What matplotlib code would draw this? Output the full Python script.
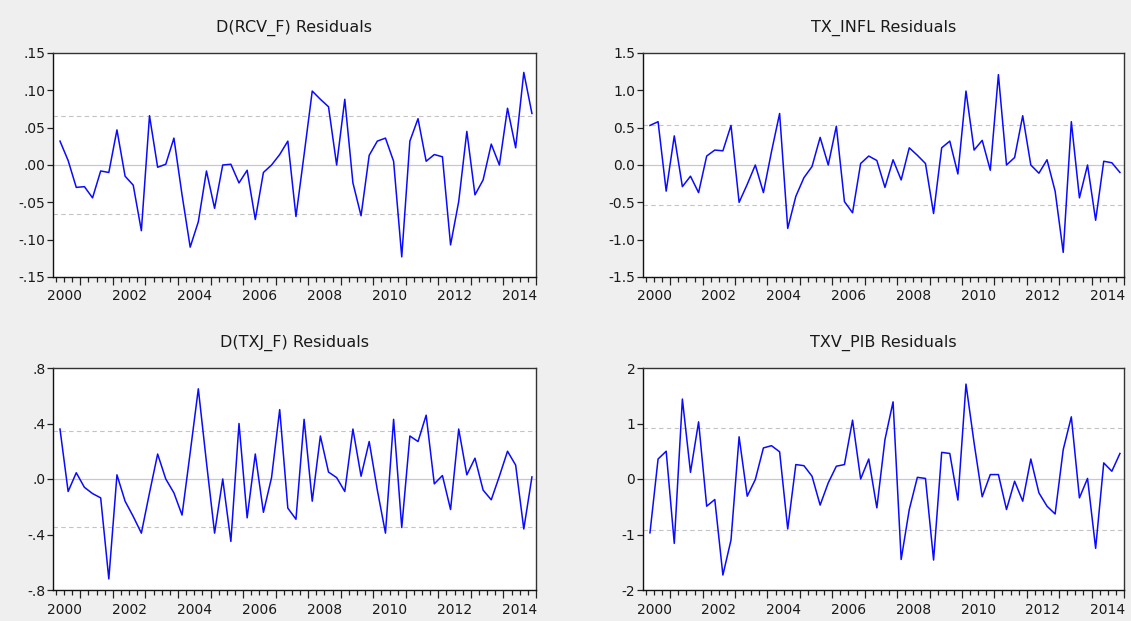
import numpy as np
import pandas as pd
import matplotlib; matplotlib.use("Agg"); import matplotlib.pyplot as plt

# quarterly residuals, 2000Q2 .. 2014Q4
quarters = pd.period_range("2000Q2", periods=59, freq="Q")
rcv = [0.032, 0.006, -0.030, -0.029, -0.044, -0.008, -0.010, 0.047, -0.015, -0.027,
       -0.088, 0.066, -0.003, 0.001, 0.036, -0.040, -0.110, -0.076, -0.008, -0.058,
       0.000, 0.001, -0.024, -0.007, -0.073, -0.010, 0.000, 0.014, 0.032, -0.069,
       0.014, 0.099, 0.088, 0.078, 0.000, 0.088, -0.024, -0.068, 0.013, 0.032,
       0.036, 0.005, -0.123, 0.032, 0.062, 0.005, 0.014, 0.011, -0.107, -0.049,
       0.045, -0.040, -0.020, 0.028, 0.000, 0.076, 0.023, 0.124, 0.069]
infl = [0.53, 0.58, -0.35, 0.39, -0.29, -0.15, -0.37, 0.12, 0.20, 0.19,
        0.53, -0.50, -0.26, 0.00, -0.37, 0.18, 0.69, -0.85, -0.42, -0.17,
        -0.02, 0.37, 0.00, 0.52, -0.49, -0.64, 0.02, 0.12, 0.06, -0.30,
        0.07, -0.20, 0.23, 0.13, 0.02, -0.65, 0.23, 0.32, -0.12, 0.99,
        0.20, 0.33, -0.07, 1.21, 0.00, 0.10, 0.66, 0.00, -0.11, 0.07,
        -0.35, -1.17, 0.58, -0.44, 0.00, -0.74, 0.05, 0.03, -0.10]
txj = [0.36, -0.09, 0.045, -0.06, -0.105, -0.136, -0.72, 0.03, -0.16, -0.27,
       -0.39, -0.10, 0.18, 0.00, -0.10, -0.26, 0.19, 0.65, 0.12, -0.39,
       0.00, -0.45, 0.40, -0.28, 0.18, -0.24, 0.01, 0.50, -0.21, -0.29,
       0.43, -0.16, 0.31, 0.05, 0.01, -0.09, 0.36, 0.02, 0.27, -0.08,
       -0.39, 0.43, -0.35, 0.31, 0.27, 0.46, -0.035, 0.025, -0.22, 0.36,
       0.03, 0.15, -0.08, -0.15, 0.02, 0.20, 0.10, -0.36, 0.015]
pib = [-0.97, 0.36, 0.50, -1.16, 1.44, 0.12, 1.03, -0.49, -0.37, -1.73,
       -1.10, 0.76, -0.31, -0.01, 0.56, 0.60, 0.49, -0.90, 0.26, 0.24,
       0.05, -0.47, -0.07, 0.23, 0.26, 1.06, 0.00, 0.36, -0.52, 0.71,
       1.39, -1.45, -0.55, 0.03, 0.01, -1.46, 0.48, 0.46, -0.38, 1.71,
       0.65, -0.32, 0.08, 0.08, -0.55, -0.04, -0.40, 0.36, -0.25, -0.49,
       -0.63, 0.53, 1.12, -0.34, 0.01, -1.25, 0.29, 0.14, 0.46]

titles = ["D(RCV_F) Residuals", "TX_INFL Residuals", "D(TXJ_F) Residuals", "TXV_PIB Residuals"]
series = [rcv, infl, txj, pib]
sigma = [0.066, 0.54, 0.345, 0.91]          # +/- 1 s.e. bands
yticks = [[-0.15, -0.10, -0.05, 0.0, 0.05, 0.10, 0.15],
          [-1.5, -1.0, -0.5, 0.0, 0.5, 1.0, 1.5],
          [-0.8, -0.4, 0.0, 0.4, 0.8],
          [-2, -1, 0, 1, 2]]
ylabels = [["-.15", "-.10", "-.05", ".00", ".05", ".10", ".15"],
           ["-1.5", "-1.0", "-0.5", "0.0", "0.5", "1.0", "1.5"],
           ["-.8", "-.4", ".0", ".4", ".8"],
           ["-2", "-1", "0", "1", "2"]]
year_labels = list(range(2000, 2015, 2))

W, H = 1131, 621
boxes = [(53, 53, 483, 224), (643, 53, 481, 224), (53, 368, 483, 222), (643, 368, 481, 222)]

plt.rcParams["font.family"] = ["DejaVu Sans"]
fig = plt.figure(figsize=(W / 100, H / 100), dpi=100, facecolor="#efefef")
x = np.array([p.year + (p.quarter - 1) / 4 + 0.125 for p in quarters])

for (l, t, w, h), ttl, y, s, yt, yl in zip(boxes, titles, series, sigma, yticks, ylabels):
    ax = fig.add_axes([l / W, 1 - (t + h) / H, w / W, h / H], facecolor="white")
    ax.axhline(0, color="#c8c8c8", lw=0.9, zorder=1)
    for v in (s, -s):
        ax.axhline(v, color="#c4c4c4", lw=0.8, ls=(0, (4, 3)), zorder=1)
    ax.plot(x, y, color="#0a0aff", lw=1.1, zorder=3)
    ax.set_xlim(2000.16, 2015.0); ax.set_ylim(yt[0], yt[-1])
    ax.set_yticks(yt); ax.set_yticklabels(yl)
    # year boundaries long ticks, quarter boundaries short ticks
    ax.set_xticks(np.arange(2001, 2016)); ax.set_xticklabels([])
    ax.set_xticks(np.arange(2000.25, 2015, 0.25), minor=True)
    ax.tick_params(axis="x", which="major", length=6, width=0.9, direction="out", color="#222")
    ax.tick_params(axis="x", which="minor", length=3.5, width=0.9, direction="out", color="#222")
    ax.tick_params(axis="y", length=4, width=0.9, direction="out", pad=1.5, labelsize=10, color="#222", labelcolor="#1a1a1a")
    sec = ax.secondary_xaxis("bottom")
    sec.set_xticks([yr + 0.5 for yr in year_labels]); sec.set_xticklabels([str(yr) for yr in year_labels])
    sec.tick_params(length=0, pad=9, labelsize=10, labelcolor="#1a1a1a")
    sec.spines["bottom"].set_visible(False)
    for sp in ax.spines.values():
        sp.set_color("#333"); sp.set_linewidth(1.0)
    ax.spines["left"].set_color("#111"); ax.spines["bottom"].set_color("#111")
    ax.set_title(ttl, fontsize=11.5, color="#1a1a1a", pad=15)

fig.savefig("out.png", dpi=100, facecolor=fig.get_facecolor())
